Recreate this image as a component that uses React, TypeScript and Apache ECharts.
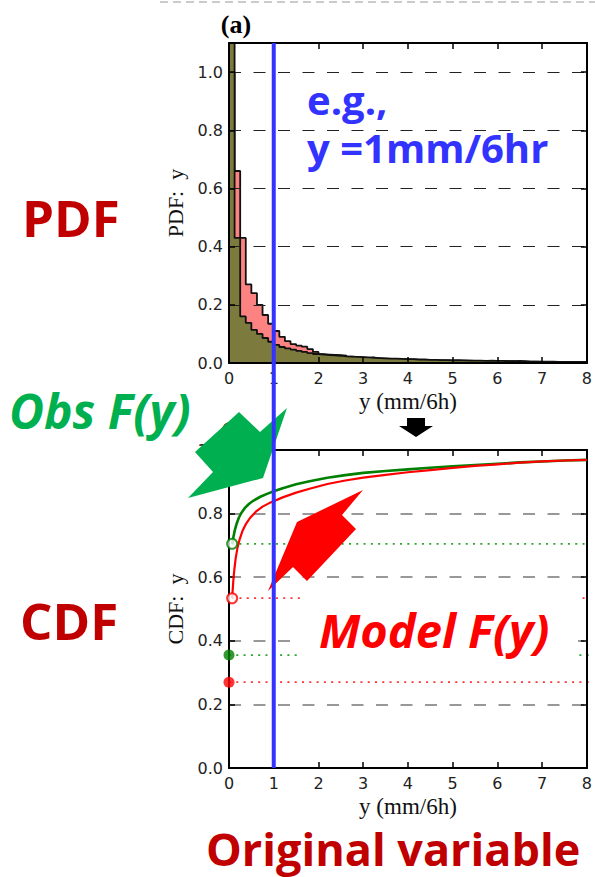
import React, { useEffect, useRef } from "react";
import * as echarts from "echarts";

// ---------- data ----------
const BIN_WIDTH = 0.125;
const xTickLabels = ["0", "1", "2", "3", "4", "5", "6", "7", "8"];

// observed PDF (olive), 64 bins of 0.125 mm/6h
const obsPdf = [
  3.2, 0.43, 0.16, 0.138, 0.114, 0.1, 0.086, 0.073,
  0.062, 0.055, 0.05, 0.046, 0.042, 0.038, 0.034, 0.031,
  0.029, 0.027, 0.026, 0.025, 0.023, 0.022, 0.021, 0.02,
  0.019, 0.018, 0.017, 0.016, 0.015, 0.015, 0.014, 0.013,
  0.013, 0.012, 0.012, 0.011, 0.011, 0.01, 0.01, 0.009,
  0.01, 0.009, 0.008, 0.008, 0.008, 0.007, 0.008, 0.007,
  0.007, 0.006, 0.006, 0.007, 0.006, 0.005, 0.005, 0.005,
  0.005, 0.005, 0.004, 0.004, 0.004, 0.004, 0.004, 0.004,
];
// model PDF (pink)
const modelPdf = [
  1.0, 0.66, 0.43, 0.27, 0.24, 0.2, 0.165, 0.135,
  0.11, 0.09, 0.075, 0.065, 0.06, 0.056, 0.048, 0.038,
  0.03, 0.029, 0.028, 0.027, 0.025, 0.022, 0.02, 0.019,
  0.017, 0.019, 0.016, 0.015, 0.014, 0.013, 0.013, 0.012,
  0.012, 0.011, 0.011, 0.01, 0.01, 0.009, 0.009, 0.009,
  0.008, 0.008, 0.008, 0.007, 0.007, 0.007, 0.007, 0.006,
  0.006, 0.006, 0.006, 0.005, 0.005, 0.005, 0.005, 0.004,
  0.004, 0.004, 0.004, 0.003, 0.003, 0.003, 0.003, 0.003,
];

// CDFs
const obsCdfX = [0.07, 0.08, 0.1, 0.13, 0.17, 0.22, 0.28, 0.35, 0.45, 0.55, 0.7, 0.85, 1.0, 1.2, 1.5, 1.8, 2.2, 2.6, 3.0, 3.5, 4.0, 4.5, 5.0, 5.5, 6.0, 6.5, 7.0, 7.5, 8.0];
const obsCdf = [0.705, 0.712, 0.727, 0.748, 0.768, 0.787, 0.803, 0.817, 0.831, 0.841, 0.853, 0.862, 0.870, 0.880, 0.892, 0.902, 0.913, 0.921, 0.928, 0.934, 0.939, 0.944, 0.949, 0.953, 0.957, 0.961, 0.964, 0.967, 0.969];
const modelCdfX = [0.07, 0.08, 0.09, 0.1, 0.12, 0.15, 0.19, 0.24, 0.3, 0.38, 0.48, 0.6, 0.75, 0.9, 1.0, 1.2, 1.5, 1.8, 2.2, 2.6, 3.0, 3.5, 4.0, 4.5, 5.0, 5.5, 6.0, 6.5, 7.0, 7.5, 8.0];
const modelCdf = [0.534, 0.555, 0.575, 0.595, 0.625, 0.66, 0.693, 0.72, 0.745, 0.768, 0.788, 0.806, 0.822, 0.833, 0.839, 0.851, 0.866, 0.878, 0.893, 0.904, 0.913, 0.922, 0.930, 0.937, 0.944, 0.950, 0.955, 0.960, 0.964, 0.967, 0.969];

// probability levels marked with circles
const obsOpenP = 0.705;
const modelOpenP = 0.534;
const openX = 0.07;
const obsDryP = 0.355;
const modelDryP = 0.27;
const exampleY = 1; // mm/6h
const lineEndX = 8.3;
const blueBridgeValue = 1.28;

// ---------- annotation shapes (pixels) ----------
const GREEN_ARROW = [[239, 412], [260, 432], [287, 408], [263, 478], [188, 498], [213, 472], [195, 452]];
const RED_ARROW = [[363, 490], [342, 515], [356, 529], [307, 581], [293, 567], [268, 591], [297, 522]];
const BLACK_ARROW = [[407, 418], [425, 418], [425, 426], [433, 426], [416, 437], [399, 426], [407, 426]];

const C_GREEN = "#008000";
const C_RED = "#ff0000";
const C_BLUE = "#3333ff";
const C_DARKRED = "#c00000";
const C_PPT_GREEN = "#00b050";

function stepPoints(vals: number[]) {
  const pts: number[][] = [];
  vals.forEach((h, i) => {
    pts.push([i * BIN_WIDTH, h]);
    pts.push([(i + 1) * BIN_WIDTH, h]);
  });
  return pts;
}

const tickFont = { fontFamily: "DejaVu Sans", fontSize: 16, color: "#222" };

function xAxes(gridIndex: number, name: string) {
  return [
    {
      gridIndex,
      type: "value",
      min: 0,
      max: 8,
      interval: 1,
      position: "bottom",
      name,
      nameLocation: "middle",
      nameGap: 27,
      nameTextStyle: { fontFamily: "Liberation Serif", fontSize: 23, color: "#111" },
      axisLine: { onZero: false, lineStyle: { color: "#000", width: 2 } },
      axisTick: { inside: true, length: 6, lineStyle: { color: "#000", width: 1.5 } },
      axisLabel: { ...tickFont, margin: 7, formatter: (v: number) => xTickLabels[Math.round(v)] ?? "" },
      splitLine: { show: false },
      z: 5,
    },
    {
      gridIndex,
      type: "value",
      min: 0,
      max: 8,
      interval: 1,
      position: "top",
      axisLine: { onZero: false, lineStyle: { color: "#000", width: 2 } },
      axisTick: { inside: true, length: 6, lineStyle: { color: "#000", width: 1.5 } },
      axisLabel: { show: false },
      splitLine: { show: false },
      z: 5,
    },
  ];
}

function yAxes(gridIndex: number, max: number, name: string, gridColor: string, gridWidth: number) {
  return [
    {
      gridIndex,
      type: "value",
      min: 0,
      max,
      interval: 0.2,
      position: "left",
      name,
      nameLocation: "middle",
      nameRotate: 90,
      nameGap: 41,
      nameTextStyle: { fontFamily: "Liberation Serif", fontSize: 22, color: "#111" },
      axisLine: { onZero: false, lineStyle: { color: "#000", width: 2 } },
      axisTick: { inside: true, length: 6, lineStyle: { color: "#000", width: 1.5 } },
      axisLabel: {
        ...tickFont,
        margin: 6,
        formatter: (v: number) => (v > 1.05 ? "" : v.toFixed(1)),
      },
      splitLine: { show: true, lineStyle: { color: gridColor, width: gridWidth, type: [12, 12.5] } },
      z: 5,
    },
    {
      gridIndex,
      type: "value",
      min: 0,
      max,
      interval: 0.2,
      position: "right",
      axisLine: { onZero: false, lineStyle: { color: "#000", width: 2 } },
      axisTick: { inside: true, length: 6, lineStyle: { color: "#000", width: 1.5 } },
      axisLabel: { show: false },
      splitLine: { show: false },
      z: 5,
    },
  ];
}

function dotted(xStart: number, p: number, color: string) {
  return {
    type: "line",
    xAxisIndex: 2,
    yAxisIndex: 2,
    data: [[xStart, p], [lineEndX, p]],
    symbol: "none",
    clip: false,
    lineStyle: { color, width: 1.8, type: [2, 5.3] },
    z: 3,
    silent: true,
  };
}

function text(t: string, x: number, y: number, size: number, fill: string, opts: any = {}) {
  return {
    type: "text",
    x,
    y,
    z: opts.z ?? 15,
    style: {
      text: t,
      fill,
      fontSize: size,
      fontFamily: opts.family ?? "Open Sans",
      fontWeight: opts.weight ?? "bold",
      fontStyle: opts.style ?? "normal",
      align: opts.align ?? "left",
      textAlign: opts.align ?? "left",
      verticalAlign: "middle",
      textVerticalAlign: "middle",
      lineHeight: opts.lineHeight ?? size,
    },
  };
}

function buildOption() {
  return {
    animation: false,
    backgroundColor: "#fff",
    grid: [
      { left: 229, top: 43, width: 358, height: 320 },
      { left: 229, top: 450, width: 358, height: 318 },
    ],
    xAxis: [...xAxes(0, "y (mm/6h)"), ...xAxes(1, "y (mm/6h)")],
    yAxis: [
      ...yAxes(0, 1.1, "PDF:  y", "#222", 1.2),
      ...yAxes(1, 1.0, "CDF:  y", "#777", 1.6),
    ],
    series: [
      {
        type: "line",
        xAxisIndex: 0,
        yAxisIndex: 0,
        data: stepPoints(modelPdf),
        symbol: "none",
        lineStyle: { color: "#111", width: 1.8 },
        areaStyle: { color: "#fd8383", opacity: 1 },
        z: 2,
      },
      {
        type: "line",
        xAxisIndex: 0,
        yAxisIndex: 0,
        data: stepPoints(obsPdf),
        symbol: "none",
        lineStyle: { color: "#111", width: 1.8 },
        areaStyle: { color: "#7d7a3e", opacity: 1 },
        z: 3,
      },
      dotted(openX, obsOpenP, "#2aa52a"),
      dotted(openX, modelOpenP, "#ff3333"),
      dotted(0, obsDryP, "#2aa52a"),
      dotted(0, modelDryP, "#ff3333"),
      {
        type: "line",
        xAxisIndex: 2,
        yAxisIndex: 2,
        data: obsCdfX.map((x, i) => [x, obsCdf[i]]),
        symbol: "none",
        smooth: false,
        lineStyle: { color: C_GREEN, width: 2.6, join: "round" },
        z: 6,
      },
      {
        type: "line",
        xAxisIndex: 2,
        yAxisIndex: 2,
        data: modelCdfX.map((x, i) => [x, modelCdf[i]]),
        symbol: "none",
        smooth: false,
        lineStyle: { color: C_RED, width: 2.2, join: "round" },
        z: 6,
      },
      {
        type: "scatter",
        xAxisIndex: 2,
        yAxisIndex: 2,
        clip: false,
        symbolSize: 10,
        data: [
          { value: [openX, obsOpenP], itemStyle: { color: "#fff", borderColor: C_GREEN, borderWidth: 2 } },
          { value: [openX, modelOpenP], itemStyle: { color: "#fff", borderColor: C_RED, borderWidth: 2 } },
        ],
        z: 7,
      },
      {
        type: "scatter",
        xAxisIndex: 2,
        yAxisIndex: 2,
        clip: false,
        symbolSize: 11,
        data: [
          { value: [0, obsDryP], itemStyle: { color: C_GREEN } },
          { value: [0, modelDryP], itemStyle: { color: C_RED } },
        ],
        z: 7,
      },
      {
        type: "line",
        xAxisIndex: 0,
        yAxisIndex: 0,
        data: [[exampleY, 0], [exampleY, 1.1]],
        symbol: "none",
        lineStyle: { color: C_BLUE, width: 4 },
        z: 40,
      },
      {
        type: "line",
        xAxisIndex: 2,
        yAxisIndex: 2,
        data: [[exampleY, 0], [exampleY, blueBridgeValue]],
        symbol: "none",
        clip: false,
        lineStyle: { color: C_BLUE, width: 4 },
        z: 40,
      },
    ],
    graphic: [
      {
        type: "line",
        z: 1,
        shape: { x1: 160, y1: 2, x2: 595, y2: 2 },
        style: { stroke: "#bbb", lineWidth: 1.5, lineDash: [8, 5] },
      },
      text("(a)", 236, 24, 26, "#000", { family: "Liberation Serif", align: "center" }),
      text("(b)", 236, 431, 26, "#000", { family: "Liberation Serif", align: "center" }),
      text("PDF", 22, 217, 51, C_DARKRED),
      text("CDF", 20, 620, 51, C_DARKRED),
      text("e.g.,\ny =1mm/6hr", 307, 123, 40, C_BLUE, { lineHeight: 48 }),
      {
        type: "rect",
        z: 12,
        shape: { x: 300, y: 584, width: 278, height: 78 },
        style: { fill: "#fff" },
      },
      text("Model F(y)", 319, 630, 47, C_RED, { style: "italic", z: 13 }),
      text("Obs F(y)", 9, 410, 48, C_PPT_GREEN, { style: "italic" }),
      text("Original variable", 206, 848, 45, C_DARKRED),
      {
        type: "polygon",
        z: 20,
        shape: { points: GREEN_ARROW },
        style: { fill: C_PPT_GREEN },
      },
      {
        type: "polygon",
        z: 20,
        shape: { points: RED_ARROW },
        style: { fill: C_RED },
      },
      {
        type: "polygon",
        z: 20,
        shape: { points: BLACK_ARROW },
        style: { fill: "#000" },
      },
    ],
  };
}

export default function App() {
  const ref = useRef<HTMLDivElement>(null);
  useEffect(() => {
    const chart = echarts.init(ref.current!, null, { renderer: "svg" });
    chart.setOption(buildOption() as any);
    return () => chart.dispose();
  }, []);
  return (
    <div
      ref={ref}
      style={{ position: "fixed", left: 0, top: 0, width: 595, height: 877, background: "#fff" }}
    />
  );
}
